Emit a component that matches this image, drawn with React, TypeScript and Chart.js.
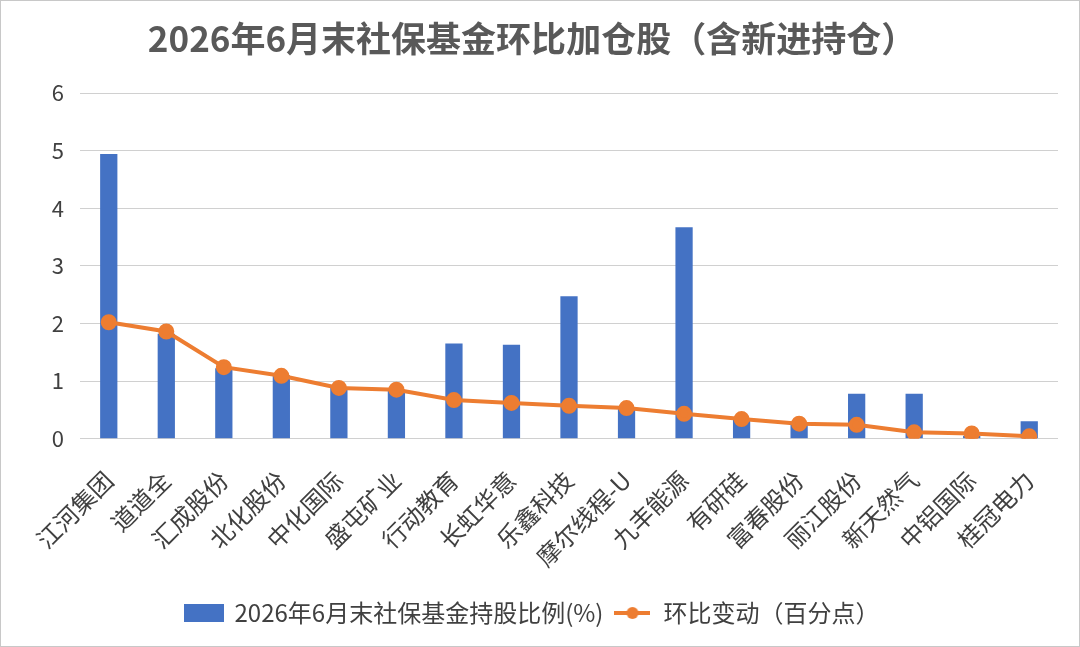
import React, { useEffect, useRef } from "react";
import { Chart, registerables } from "chart.js";

Chart.register(...registerables);

const TITLE = "2026年6月末社保基金环比加仓股（含新进持仓）";
const BAR_LABEL = "2026年6月末社保基金持股比例(%)";
const LINE_LABEL = "环比变动（百分点）";

const categories = [
  "江河集团", "道道全", "汇成股份", "北化股份", "中化国际", "盛屯矿业",
  "行动教育", "长虹华意", "乐鑫科技", "摩尔线程-U", "九丰能源", "有研硅",
  "富春股份", "丽江股份", "新天然气", "中铝国际", "桂冠电力",
];
const holdings = [4.94, 1.82, 1.22, 1.1, 0.89, 0.85, 1.65, 1.63, 2.47, 0.52, 3.67, 0.33, 0.25, 0.78, 0.78, 0.05, 0.3];
const changes = [2.02, 1.86, 1.24, 1.09, 0.88, 0.85, 0.67, 0.62, 0.57, 0.53, 0.43, 0.34, 0.26, 0.24, 0.11, 0.09, 0.04];
const yTicks = [0, 1, 2, 3, 4, 5, 6];

const BLUE = "#4472C4";
const ORANGE = "#ED7D31";
const FONT = "'Noto Sans CJK SC', 'Noto Sans', sans-serif";

function makeBarIcon() {
  const c = document.createElement("canvas");
  c.width = 40;
  c.height = 18;
  const ctx = c.getContext("2d")!;
  ctx.fillStyle = BLUE;
  ctx.fillRect(0, 0, 40, 18);
  return c;
}

function makeLineIcon() {
  const c = document.createElement("canvas");
  c.width = 36;
  c.height = 18;
  const ctx = c.getContext("2d")!;
  ctx.strokeStyle = ORANGE;
  ctx.lineWidth = 4;
  ctx.beginPath();
  ctx.moveTo(0, 9);
  ctx.lineTo(36, 9);
  ctx.stroke();
  ctx.fillStyle = ORANGE;
  ctx.beginPath();
  ctx.arc(18, 9, 6, 0, Math.PI * 2);
  ctx.fill();
  return c;
}

export default function App() {
  const ref = useRef<HTMLCanvasElement | null>(null);

  useEffect(() => {
    document.body.style.margin = "0";
    if (!ref.current) return;
    const barIcon = makeBarIcon();
    const lineIcon = makeLineIcon();
    const chart = new Chart(ref.current, {
      type: "bar",
      data: {
        labels: categories,
        datasets: [
          {
            type: "bar",
            label: BAR_LABEL,
            data: holdings,
            backgroundColor: BLUE,
            barPercentage: 0.6,
            categoryPercentage: 0.5,
            order: 1,
          },
          {
            type: "line",
            label: LINE_LABEL,
            data: changes,
            borderColor: ORANGE,
            backgroundColor: ORANGE,
            borderWidth: 4,
            pointRadius: 6,
            pointBackgroundColor: ORANGE,
            pointBorderColor: ORANGE,
            tension: 0,
            order: 0,
          },
        ],
      },
      options: {
        animation: false,
        responsive: true,
        maintainAspectRatio: false,
        layout: { padding: { left: 5, right: 21, top: 0, bottom: 11 } },
        plugins: {
          title: {
            display: true,
            text: TITLE,
            color: "#595959",
            font: { family: FONT, size: 35, weight: "bold" },
            padding: { top: 17, bottom: 33 },
          },
          legend: {
            position: "bottom",
            labels: {
              usePointStyle: true,
              pointStyleWidth: 38,
              color: "#404040",
              font: { family: FONT, size: 24 },
              padding: 10,
              generateLabels: () => [
                {
                  text: BAR_LABEL,
                  pointStyle: barIcon,
                  fillStyle: BLUE,
                  strokeStyle: BLUE,
                  lineWidth: 0,
                  hidden: false,
                  datasetIndex: 0,
                  fontColor: "#404040",
                } as any,
                {
                  text: LINE_LABEL,
                  pointStyle: lineIcon,
                  fillStyle: ORANGE,
                  strokeStyle: ORANGE,
                  lineWidth: 0,
                  hidden: false,
                  datasetIndex: 1,
                  fontColor: "#404040",
                } as any,
              ],
            },
          },
          tooltip: { enabled: false },
        },
        scales: {
          x: {
            grid: { display: false },
            border: { display: false },
            ticks: {
              color: "#404040",
              font: { family: FONT, size: 24 },
              maxRotation: 45,
              minRotation: 45,
              autoSkip: false,
              padding: 19,
            },
          },
          y: {
            min: 0,
            max: 6,
            afterBuildTicks: (axis: any) => {
              axis.ticks = yTicks.map((v) => ({ value: v }));
            },
            afterFit: (axis: any) => {
              axis.width = 74;
            },
            grid: { color: "#D0D0D0", lineWidth: 1, drawTicks: false },
            border: { display: false },
            ticks: {
              color: "#404040",
              font: { family: FONT, size: 22 },
              padding: 16,
            },
          },
        },
      },
    });
    return () => chart.destroy();
  }, []);

  return (
    <div
      style={{
        width: 1080,
        height: 647,
        boxSizing: "border-box",
        border: "1px solid #C8C8C8",
        background: "#fff",
        position: "relative",
      }}
    >
      <canvas ref={ref} />
    </div>
  );
}
